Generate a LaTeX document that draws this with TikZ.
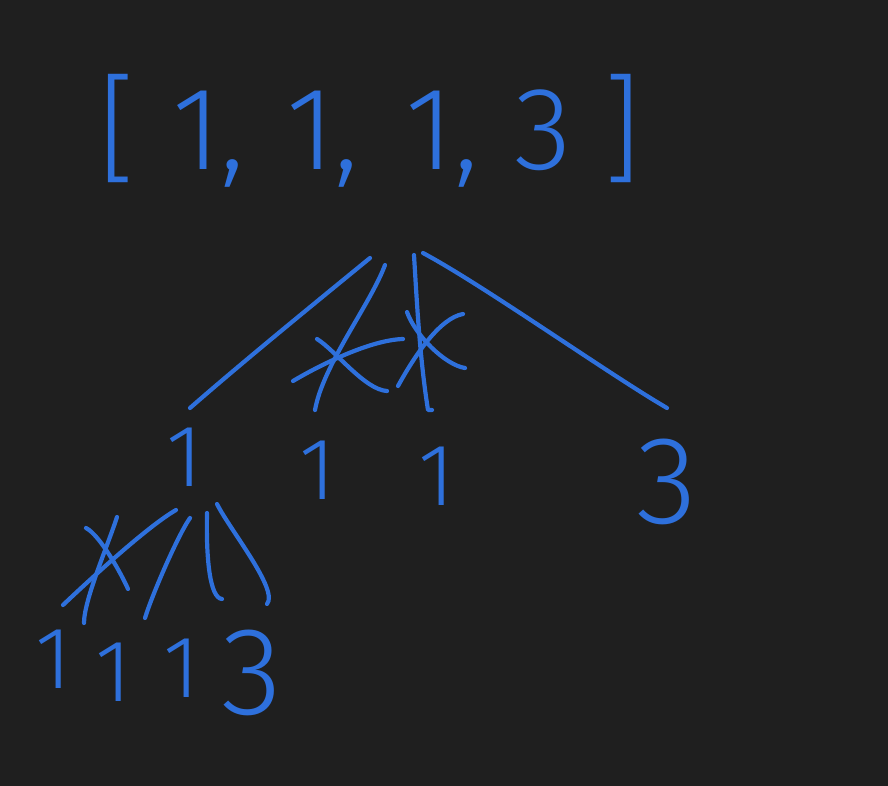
\documentclass[tikz,border=0pt]{standalone}
\usepackage{fontspec}
\newfontfamily\hand{Fira Sans Light}
\definecolor{bg}{RGB}{31,31,31}
\definecolor{ink}{RGB}{46,112,220}
\begin{document}
\begin{tikzpicture}[x=1pt,y=-1pt,
  pen/.style={draw=ink,line width=4.2pt,line cap=round,line join=round},
  digit/.style={text=ink,inner sep=0pt,font=\hand\fontsize{88}{88}\selectfont},
  bigdigit/.style={text=ink,inner sep=0pt,font=\hand\fontsize{125}{125}\selectfont},
  listtext/.style={text=ink,inner sep=0pt,anchor=base,font=\hand\fontsize{118}{118}\selectfont}]
\fill[bg] (0,0) rectangle (888,786);
\useasboundingbox (0,0) rectangle (888,786);
% root list
\node[listtext] (root) at (370,170) {[\hspace{36pt}1,\hspace{8pt} 1,\hspace{13pt} 1,\hspace{3pt} 3\hspace{32pt}]};
% level 1
\node[digit] (c1) at (185,457) {1};
\node[digit] (c2) at (318,470) {1};
\node[digit] (c3) at (437,476) {1};
\node[bigdigit] (c4) at (667,482) {3};
% level 2
\node[digit] (d1) at (54,659) {1};
\node[digit] (d2) at (114,672) {1};
\node[digit] (d3) at (182,668) {1};
\node[bigdigit] (d4) at (252,673) {3};
% branches root -> level 1
\draw[pen] ([shift={(0,88)}]root.base) .. controls +(-55,45) and +(55,-48) .. ([shift={(5,-49)}]c1.center);
\draw[pen] ([shift={(15,95)}]root.base) .. controls +(-15,40) and +(8,-45) .. ([shift={(-3,-60)}]c2.center);
\draw[pen] ([shift={(44,85)}]root.base) .. controls +(3,50) and +(-8,-50) .. ([shift={(-9,-66)}]c3.center) -- +(4,0);
\draw[pen] ([shift={(53,83)}]root.base) .. controls +(60,32) and +(-60,-35) .. ([shift={(0,-74)}]c4.center);
% crosses on the pruned branches
\draw[pen] (293,381) .. controls (320,365) and (370,340) .. (403,339);
\draw[pen] (317,339) .. controls (335,350) and (365,390) .. (387,391);
\draw[pen] (407,312) .. controls (415,335) and (445,365) .. (465,368);
\draw[pen] (398,386) .. controls (415,355) and (440,318) .. (463,314);
% branches c1 -> level 2
\draw[pen] ([shift={(-9,53)}]c1.center) .. controls +(-26,15) and +(37,-35) .. ([shift={(9,-54)}]d1.center);
\draw[pen] ([shift={(5,61)}]c1.center) .. controls +(-12,17) and +(7,-23) .. ([shift={(31,-54)}]d2.center);
\draw[pen] ([shift={(22,56)}]c1.center) .. controls +(-1,47) and +(-12,-1) .. ([shift={(40,-69)}]d3.center);
\draw[pen] ([shift={(32,47)}]c1.center) .. controls +(13,26) and +(12,-14) .. ([shift={(15,-69)}]d4.center);
% cross on the pruned branch
\draw[pen] (86,528) .. controls (100,535) and (122,575) .. (128,589);
\draw[pen] (117,517) .. controls (108,545) and (84,600) .. (84,623);
\end{tikzpicture}
\end{document}
